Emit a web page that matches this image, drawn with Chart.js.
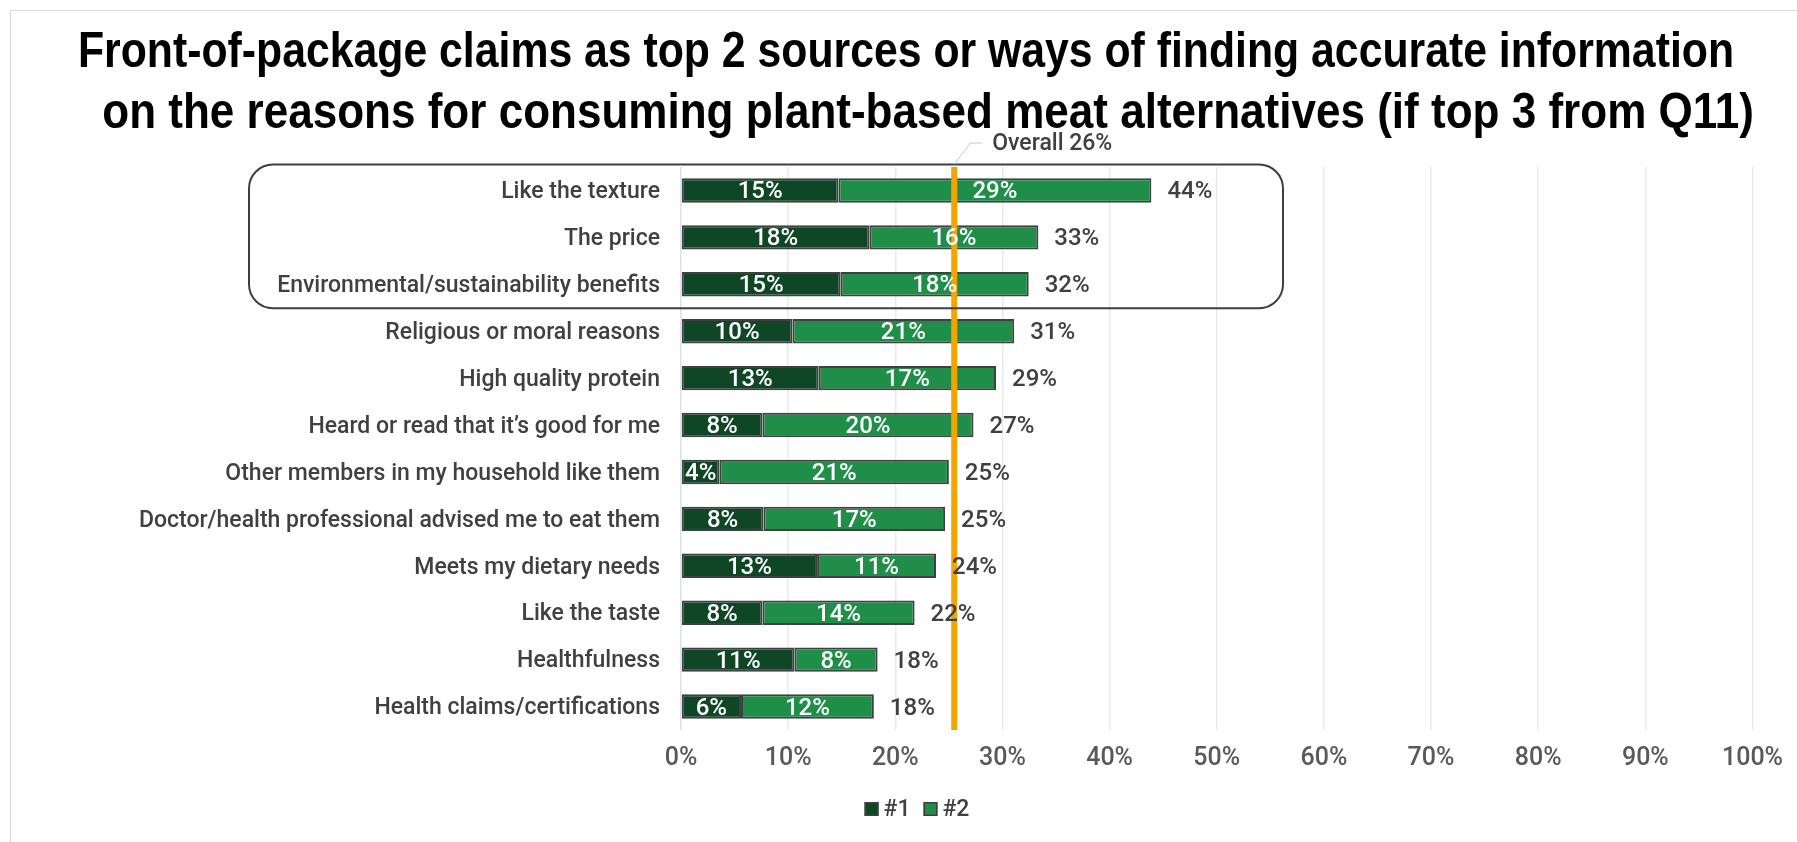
<!DOCTYPE html>
<html>
<head>
<meta charset="utf-8">
<title>Front-of-package claims</title>
<script src="https://cdn.jsdelivr.net/npm/chart.js@4.4.1/dist/chart.umd.min.js"></script>
<style>
  html, body { margin: 0; padding: 0; background: #ffffff; }
  #wrap { position: relative; width: 1797px; height: 842px; }
  canvas { display: block; }
</style>
</head>
<body>
<div id="wrap"><canvas id="chart" width="1797" height="842"></canvas></div>
<script>
// Reasons for consuming plant-based meat alternatives
const categories = [
  'Like the texture',
  'The price',
  'Environmental/sustainability benefits',
  'Religious or moral reasons',
  'High quality protein',
  'Heard or read that it\u2019s good for me',
  'Other members in my household like them',
  'Doctor/health professional advised me to eat them',
  'Meets my dietary needs',
  'Like the taste',
  'Healthfulness',
  'Health claims/certifications'
];

// Share ranking front-of-package claims as #1 and #2 source (%)
const firstChoice  = [14.7, 17.6, 14.9, 10.4, 12.85, 7.6, 3.6, 7.7, 12.7, 7.6, 10.6, 5.6];
const secondChoice = [29.2, 15.75, 17.55, 20.7, 16.55, 19.7, 21.4, 16.95, 11.1, 14.2, 7.75, 12.4];
const seriesNames  = ['#1', '#2'];

// Overall share across all reasons (%)
const overallValue = 25.5;
const overallName  = 'Overall';

// Value axis ticks (%)
const xTicks = [0, 10, 20, 30, 40, 50, 60, 70, 80, 90, 100];

const titleLines = [
  'Front-of-package claims as top 2 sources or ways of finding accurate information',
  ' on the reasons for consuming plant-based meat alternatives (if top 3 from Q11)'
];

const FONT = 'Roboto, "Liberation Sans", Arial, sans-serif';
const TITLE_FONT = '"Liberation Sans", Arial, sans-serif';
const DARK = '#0F4726';
const LIGHT = '#1E8E48';
const EDGE = '#404040';
const TEXT = '#404040';
const ORANGE = '#F4A400';

const pct = v => Math.round(v) + '%';

const decorPlugin = {
  id: 'decor',
  beforeDraw(chart) {
    const ctx = chart.ctx;
    ctx.save();
    ctx.fillStyle = '#ffffff';
    ctx.fillRect(0, 0, chart.width, chart.height);
    // outer frame
    ctx.strokeStyle = '#D9D9D9';
    ctx.lineWidth = 1;
    ctx.beginPath();
    ctx.moveTo(10.5, chart.height);
    ctx.lineTo(10.5, 10.5);
    ctx.lineTo(chart.width, 10.5);
    ctx.stroke();
    // title, set in a condensed bold face
    ctx.fillStyle = '#000000';
    ctx.font = 'bold 50px ' + TITLE_FONT;
    ctx.textAlign = 'center';
    ctx.textBaseline = 'middle';
    ctx.fillText(titleLines[0], 906, 53, 1656);
    ctx.fillText(titleLines[1], 922, 114, 1664);
    ctx.restore();
  },
  afterDatasetsDraw(chart) {
    const ctx = chart.ctx;
    const xs = chart.scales.x;
    const area = chart.chartArea;
    ctx.save();
    // overall reference line
    const ox = xs.getPixelForValue(overallValue);
    ctx.strokeStyle = ORANGE;
    ctx.lineWidth = 6;
    ctx.beginPath();
    ctx.moveTo(ox, area.top);
    ctx.lineTo(ox, area.bottom);
    ctx.stroke();

    // segment labels
    ctx.font = '500 24px ' + FONT;
    ctx.textAlign = 'center';
    ctx.textBaseline = 'middle';
    ctx.fillStyle = '#ffffff';
    chart.data.datasets.forEach((ds, di) => {
      const meta = chart.getDatasetMeta(di);
      meta.data.forEach((bar, i) => {
        const left = Math.min(bar.x, bar.base);
        const right = Math.max(bar.x, bar.base);
        ctx.fillText(pct(ds.data[i]), (left + right) / 2, bar.y + 2);
      });
    });

    // totals
    ctx.fillStyle = TEXT;
    ctx.textAlign = 'left';
    ctx.font = '500 24px ' + FONT;
    const lastMeta = chart.getDatasetMeta(chart.data.datasets.length - 1);
    lastMeta.data.forEach((bar, i) => {
      const total = firstChoice[i] + secondChoice[i];
      ctx.fillText(pct(total), xs.getPixelForValue(total) + 16, bar.y + 2);
    });
    ctx.restore();
  },
  afterDraw(chart) {
    const ctx = chart.ctx;
    const xs = chart.scales.x;
    const ys = chart.scales.y;
    ctx.save();

    // highlight frame around the top three reasons
    const top = ys.getPixelForValue(0) - 26;
    const bottom = ys.getPixelForValue(2) + 24;
    const left = 249, right = 1283, r = 24;
    ctx.strokeStyle = '#3F3F3F';
    ctx.lineWidth = 2;
    ctx.beginPath();
    ctx.moveTo(left + r, top);
    ctx.lineTo(right - r, top);
    ctx.arcTo(right, top, right, top + r, r);
    ctx.lineTo(right, bottom - r);
    ctx.arcTo(right, bottom, right - r, bottom, r);
    ctx.lineTo(left + r, bottom);
    ctx.arcTo(left, bottom, left, bottom - r, r);
    ctx.lineTo(left, top + r);
    ctx.arcTo(left, top, left + r, top, r);
    ctx.closePath();
    ctx.stroke();

    // overall callout
    const ox = xs.getPixelForValue(overallValue);
    ctx.strokeStyle = '#C8C8C8';
    ctx.lineWidth = 1;
    ctx.beginPath();
    ctx.moveTo(ox, top);
    ctx.lineTo(ox + 16, 143);
    ctx.lineTo(ox + 28, 143);
    ctx.stroke();
    ctx.fillStyle = TEXT;
    ctx.font = '500 23px ' + FONT;
    ctx.textAlign = 'left';
    ctx.textBaseline = 'middle';
    ctx.fillText(overallName + ' ' + pct(overallValue), ox + 38, 144);

    // legend
    ctx.font = '500 23px ' + FONT;
    const box = 14, gapBox = 5, gapItem = 13;
    const widths = seriesNames.map(n => box + gapBox + ctx.measureText(n).width);
    const totalW = widths.reduce((a, b) => a + b, 0) + gapItem;
    let lx = 917 - totalW / 2;
    const ly = 809;
    chart.data.datasets.forEach((ds, i) => {
      ctx.fillStyle = ds.backgroundColor;
      ctx.fillRect(lx, ly - box / 2, box, box);
      ctx.strokeStyle = EDGE;
      ctx.lineWidth = 1.5;
      ctx.strokeRect(lx + 0.75, ly - box / 2 + 0.75, box - 1.5, box - 1.5);
      ctx.fillStyle = TEXT;
      ctx.textAlign = 'left';
      ctx.fillText(seriesNames[i], lx + box + gapBox, ly + 1);
      lx += widths[i] + gapItem;
    });
    ctx.restore();
  }
};

new Chart(document.getElementById('chart'), {
  type: 'bar',
  data: {
    labels: categories,
    datasets: [
      { label: seriesNames[0], data: firstChoice, backgroundColor: DARK, borderColor: EDGE, borderWidth: 2, borderSkipped: false },
      { label: seriesNames[1], data: secondChoice, backgroundColor: LIGHT, borderColor: EDGE, borderWidth: 2, borderSkipped: false }
    ]
  },
  options: {
    responsive: false,
    animation: false,
    indexAxis: 'y',
    layout: { padding: { top: 167, right: 41, bottom: 0, left: 0 } },
    datasets: { bar: { barPercentage: 0.52, categoryPercentage: 1 } },
    plugins: { legend: { display: false }, tooltip: { enabled: false }, title: { display: false } },
    scales: {
      x: {
        stacked: true,
        min: xTicks[0],
        max: xTicks[xTicks.length - 1],
        afterBuildTicks(scale) { scale.ticks = xTicks.map(v => ({ value: v })); },
        afterFit(scale) { scale.height = 112; },
        ticks: {
          callback: v => v + '%',
          color: '#595959',
          font: { family: FONT, size: 25, weight: '500' },
          padding: 14,
          maxRotation: 0
        },
        grid: {
          drawTicks: false,
          color: c => (c.tick && c.tick.value === 0 ? '#D9E1EE' : '#EAEAEA'),
          lineWidth: 1.5
        },
        border: { display: false }
      },
      y: {
        stacked: true,
        afterFit(scale) { scale.width = 681; },
        ticks: {
          color: TEXT,
          font: { family: FONT, size: 23, weight: '500' },
          padding: 21,
          labelOffset: 2,
          autoSkip: false
        },
        grid: { display: false, drawTicks: false },
        border: { display: false }
      }
    }
  },
  plugins: [decorPlugin]
});
</script>
</body>
</html>
